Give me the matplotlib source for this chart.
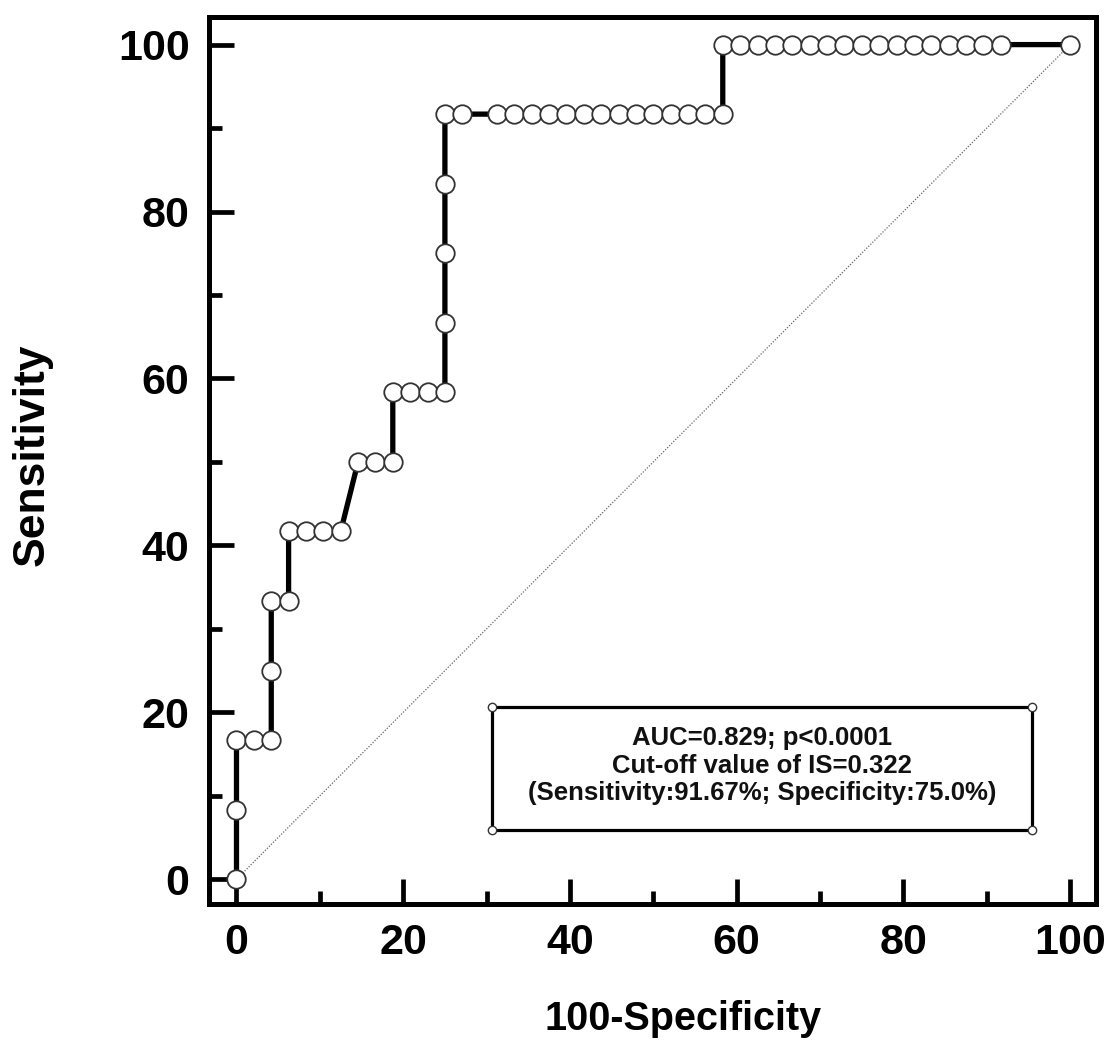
"""ROC curve for IS (insulin sensitivity index) — 100-Specificity vs Sensitivity.

Reproduces the MedCalc-style plot: stepped empirical ROC with open circles,
dotted chance diagonal, and a framed box with AUC and cut-off info.
"""

import matplotlib
matplotlib.use("Agg")
import matplotlib.pyplot as plt

# --------------------------------------------------------------------- data
# empirical ROC points (12 positives, 48 negatives), in %
FPR = [0, 0, 0, 2.08, 4.17, 4.17, 4.17, 6.25, 6.25, 8.33, 10.42, 12.5,
       14.58, 16.67, 18.75, 18.75, 20.83, 22.92, 25, 25, 25, 25, 25, 27.08,
       31.25, 33.33, 35.42, 37.5, 39.58, 41.67, 43.75, 45.83, 47.92, 50,
       52.08, 54.17, 56.25, 58.33, 58.33, 60.42, 62.5, 64.58, 66.67, 68.75,
       70.83, 72.92, 75, 77.08, 79.17, 81.25, 83.33, 85.42, 87.5, 89.58,
       91.67, 100]
TPR = [0, 8.33, 16.67, 16.67, 16.67, 25, 33.33, 33.33, 41.67, 41.67, 41.67,
       41.67, 50, 50, 50, 58.33, 58.33, 58.33, 58.33, 66.67, 75, 83.33,
       91.67, 91.67, 91.67, 91.67, 91.67, 91.67, 91.67, 91.67, 91.67, 91.67,
       91.67, 91.67, 91.67, 91.67, 91.67, 91.67, 100, 100, 100, 100, 100,
       100, 100, 100, 100, 100, 100, 100, 100, 100, 100, 100, 100, 100]

XTICKS = [0, 20, 40, 60, 80, 100]
YTICKS = [0, 20, 40, 60, 80, 100]
XLABEL = "100-Specificity"
YLABEL = "Sensitivity"
INFO_LINES = ["AUC=0.829; p<0.0001",
              "Cut-off value of IS=0.322",
              "(Sensitivity:91.67%; Specificity:75.0%)"]

# ------------------------------------------------------------------ styling
FONT = "Liberation Sans"
BOX = (30.6, 5.9, 95.4, 20.6)          # x0, y0, x1, y1 in data units
INFO_Y = [16.9, 13.6, 10.3]
INFO_X = 63.0


def main() -> None:
    plt.rcParams["font.family"] = [FONT, "DejaVu Sans"]
    plt.rcParams["font.weight"] = "bold"

    fig = plt.figure(figsize=(11.11, 10.46), dpi=100)
    ax = fig.add_axes([0.1881, 0.1358, 0.7984, 0.8479])

    # chance diagonal
    ax.plot([0, 100], [0, 100], color="#666666", lw=0.9,
            ls=(0, (1, 1.3)), zorder=1)

    # ROC curve
    ax.plot(FPR, TPR, color="black", lw=3.8, marker="o", ms=13.3,
            mfc="white", mec="#333333", mew=1.3, zorder=3, clip_on=False)

    # info box with corner handles
    x0, y0, x1, y1 = BOX
    ax.plot([x0, x1, x1, x0, x0], [y0, y0, y1, y1, y0], color="black",
            lw=2.3, zorder=4)
    ax.plot([x0, x1, x1, x0], [y0, y0, y1, y1], ls="none", marker="o",
            ms=6, mfc="white", mec="#333333", mew=1.0, zorder=5)
    for y, line in zip(INFO_Y, INFO_LINES):
        ax.text(INFO_X, y, line, ha="center", va="center", fontsize=18.5,
                fontweight="bold", color="#111111", zorder=6)

    ax.set_xlim(-3.3, 103.1)
    ax.set_ylim(-2.96, 103.3)
    ax.set_xticks(XTICKS)
    ax.set_yticks(YTICKS)
    ax.set_xticks([10, 30, 50, 70, 90], minor=True)
    ax.set_yticks([10, 30, 50, 70, 90], minor=True)
    ax.tick_params(which="both", direction="in", width=3.4, pad=14,
                   labelsize=31)
    ax.tick_params(which="major", length=18)
    ax.tick_params(which="minor", length=9.5)
    for lab in ax.get_xticklabels() + ax.get_yticklabels():
        lab.set_fontweight("bold")
    for sp in ax.spines.values():
        sp.set_linewidth(3.6)

    ax.set_xlabel(XLABEL, fontsize=28.5, fontweight="bold")
    ax.set_ylabel(YLABEL, fontsize=32, fontweight="bold")
    ax.xaxis.set_label_coords(0.535, -0.108)
    ax.yaxis.set_label_coords(-0.176, 0.506)

    fig.savefig("out.png", dpi=100)


if __name__ == "__main__":
    main()
